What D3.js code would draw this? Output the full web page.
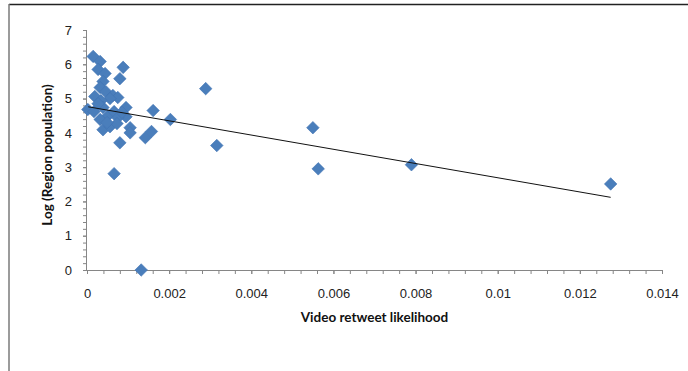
<!DOCTYPE html>
<html>
<head>
<meta charset="utf-8">
<script src="https://cdn.jsdelivr.net/npm/d3@7"></script>
<style>
  body { margin: 0; background: #fff; }
  svg { display: block; font-family: Lato, "Liberation Sans", sans-serif; }
  .axis path, .axis line { stroke: #868686; }
  .axis text { fill: #222; font-size: 13px; }
  .title { font-weight: bold; font-size: 13.5px; fill: #111; }
</style>
</head>
<body>
<script>
// values
const xValues = [0.00015, 0.00032, 0.00088, 0.00027, 0.00044, 0.00080, 0.00039, 0.00032,
  0.00046, 0.00063, 0.00075, 0.00019, 0.00056, 0.00034, 0.00002, 0.00017, 0.00039,
  0.00051, 0.00066, 0.00095, 0.00095, 0.00075, 0.00032, 0.00039, 0.00056, 0.00073,
  0.00105, 0.00105, 0.00080, 0.00066, 0.00142, 0.00157, 0.00161, 0.00203, 0.00289,
  0.00316, 0.00550, 0.00563, 0.00790, 0.01275, 0.00132, 0.00027, 0.00085, 0.00049]
const yValues = [6.23, 6.08, 5.91, 5.85, 5.73, 5.58, 5.50, 5.32,
  5.20, 5.09, 5.03, 5.06, 5.00, 4.94, 4.68, 4.62, 4.74,
  4.50, 4.62, 4.74, 4.47, 4.44, 4.39, 4.09, 4.18, 4.27,
  4.15, 4.00, 3.71, 2.81, 3.86, 4.04, 4.65, 4.39, 5.29,
  3.63, 4.15, 2.95, 3.07, 2.51, 0.00, 4.85, 4.60, 4.30]

// linear trendline end points
const trendX = [0.00003, 0.01275]
const trendY = [4.76, 2.12]

const xTicks = [0, 0.002, 0.004, 0.006, 0.008, 0.01, 0.012, 0.014]
const xTickLabels = ['0', '0.002', '0.004', '0.006', '0.008', '0.01', '0.012', '0.014']
const yTicks = [0, 1, 2, 3, 4, 5, 6, 7]

const width = 688, height = 371
const margin = {top: 30, right: 26, bottom: 101, left: 87}
const w = width - margin.left - margin.right
const h = height - margin.top - margin.bottom

const svg = d3.select('body').append('svg')
    .attr('width', width)
    .attr('height', height)

// outer frame (partly cropped in the original)
svg.append('line').attr('x1', 9).attr('x2', width).attr('y1', 4.5).attr('y2', 4.5)
    .attr('stroke', '#222').attr('stroke-width', 1.5)
svg.append('line').attr('x1', 9).attr('x2', 9).attr('y1', 4).attr('y2', height)
    .attr('stroke', '#7a7a7a').attr('stroke-width', 1.5)

const g = svg.append('g')
    .attr('transform', 'translate(' + margin.left + ',' + margin.top + ')')

const xScale = d3.scaleLinear().domain([0, 0.014]).range([0, w])
const yScale = d3.scaleLinear().domain([0, 7]).range([h, 0])

// minor ticks
g.append('g')
    .attr('class', 'axis')
    .attr('transform', 'translate(0,' + h + ')')
    .call(d3.axisBottom(xScale).tickValues(d3.range(0, 35).map(i => i * 0.0004)).tickSize(4).tickFormat(''))
    .select('.domain').remove()
g.append('g')
    .attr('class', 'axis')
    .call(d3.axisLeft(yScale).tickValues(d3.range(0, 36).map(i => i * 0.2)).tickSize(4).tickFormat(''))
    .select('.domain').remove()

// major axes
g.append('g')
    .attr('class', 'axis x')
    .attr('transform', 'translate(0,' + h + ')')
    .call(d3.axisBottom(xScale).tickValues(xTicks).tickSize(4).tickPadding(15)
      .tickFormat((d, i) => xTickLabels[i]))
    .call(a => a.select('.domain').attr('d', 'M0,0.5H' + w))

g.append('g')
    .attr('class', 'axis y')
    .call(d3.axisLeft(yScale).tickValues(yTicks).tickSize(4).tickPadding(11).tickFormat(d3.format('d')))
    .call(a => a.select('.domain').attr('d', 'M-0.5,' + h + 'V0'))

// points
const points = xValues.map((x, i) => ({x: x, y: yValues[i]}))
const diamond = d3.symbol().type(d3.symbolDiamond2).size(100)

g.append('g').selectAll('path')
    .data(points)
    .enter()
      .append('path')
      .attr('d', diamond)
      .attr('transform', d => 'translate(' + xScale(d.x) + ',' + yScale(d.y) + ')')
      .attr('fill', '#4a7ebb')
      .attr('stroke', '#4174b3')
      .attr('stroke-width', 0.6)

// trendline
const line = d3.line()
    .x(d => xScale(d[0]))
    .y(d => yScale(d[1]))

g.append('path')
    .datum(trendX.map((x, i) => [x, trendY[i]]))
    .attr('d', line)
    .attr('fill', 'none')
    .attr('stroke', '#111')
    .attr('stroke-width', 1)

// axis titles
g.append('text')
    .attr('class', 'title')
    .attr('x', w / 2)
    .attr('y', h + 52)
    .attr('text-anchor', 'middle')
    .text('Video retweet likelihood')

g.append('text')
    .attr('class', 'title')
    .attr('transform', 'translate(' + (47 - margin.left) + ',' + (h / 2 + 5) + ') rotate(-90)')
    .attr('text-anchor', 'middle')
    .attr('dy', '0.35em')
    .text('Log (Region population)')
</script>
</body>
</html>
